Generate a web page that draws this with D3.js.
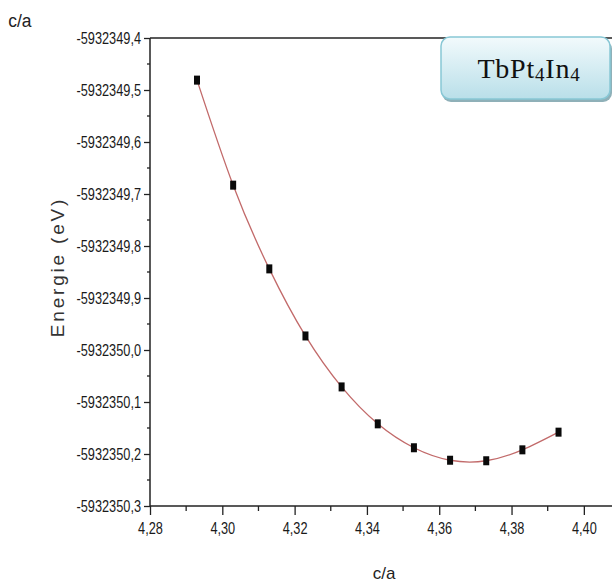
<!DOCTYPE html>
<html>
<head>
<meta charset="utf-8">
<script src="https://cdn.jsdelivr.net/npm/d3@7"></script>
<style>
  body { margin: 0; background: #fff; }
  .canva svg { display: block; }
</style>
</head>
<body>
<div class="canva"></div>
<script>
// c/a ratio and total energy (eV)
var caValues = [4.293, 4.303, 4.313, 4.323, 4.333, 4.343, 4.353, 4.363, 4.373, 4.383, 4.393];
var energyValues = [
    -5932349.481,
    -5932349.683,
    -5932349.844,
    -5932349.973,
    -5932350.071,
    -5932350.142,
    -5932350.188,
    -5932350.212,
    -5932350.213,
    -5932350.192,
    -5932350.158
];

var xTicks = [4.28, 4.30, 4.32, 4.34, 4.36, 4.38, 4.40];
var yTicks = [-5932349.4, -5932349.5, -5932349.6, -5932349.7, -5932349.8,
              -5932349.9, -5932350.0, -5932350.1, -5932350.2, -5932350.3];

const canvas = d3.select(".canva");
const svg = canvas.append("svg")
                  .attr("width", 612)
                  .attr("height", 588)
                  .attr("font-family", "'Liberation Sans', Arial, sans-serif");

const margin = {top: 38, left: 150, bottom: 506};
const squeeze = 0.75;

const locale = d3.formatLocale({decimal: ",", thousands: ".", grouping: [3], currency: ["", ""], minus: "-"});

var x = d3.scaleLinear()
          .domain([4.28, 4.41])
          .range([margin.left, 620]);

var y = d3.scaleLinear()
          .domain([-5932350.3, -5932349.4])
          .range([margin.bottom, margin.top]);

// legend box gradient
const defs = svg.append("defs");
const grad = defs.append("linearGradient")
                 .attr("id", "boxGrad")
                 .attr("x1", 0).attr("y1", 0).attr("x2", 0).attr("y2", 1);
grad.append("stop").attr("offset", "0%").attr("stop-color", "#f2fafc");
grad.append("stop").attr("offset", "100%").attr("stop-color", "#b9dfe9");

// top frame line
svg.append("line")
   .attr("x1", x(4.28)).attr("x2", 612)
   .attr("y1", y(-5932349.4)).attr("y2", y(-5932349.4))
   .attr("stroke", "#222").attr("stroke-width", 1.5);

// x axis (major + minor)
var xAxis = d3.axisBottom(x)
              .tickValues(xTicks)
              .tickSize(9)
              .tickPadding(7)
              .tickFormat(locale.format(".2f"));
const gx = svg.append("g")
   .attr("transform", `translate(0,${margin.bottom})`)
   .call(xAxis)
   .attr("font-family", null)
   .attr("font-size", 17);
gx.select(".domain").attr("d", `M${x(4.28)},0H620`).attr("stroke", "#222").attr("stroke-width", 1.5);
gx.selectAll(".tick line").attr("stroke", "#222").attr("stroke-width", 1.3);
gx.selectAll(".tick text")
  .attr("transform", `scale(${squeeze},1)`)
  .attr("fill", "#1a1a1a");

var xMinor = d3.range(0, 7).map(i => 4.29 + i * 0.02);
svg.append("g").selectAll("line")
   .data(xMinor)
   .enter().append("line")
   .attr("x1", d => x(d)).attr("x2", d => x(d))
   .attr("y1", margin.bottom).attr("y2", margin.bottom + 5)
   .attr("stroke", "#222").attr("stroke-width", 1.3);

// y axis (major + minor)
var yAxis = d3.axisLeft(y)
              .tickValues(yTicks)
              .tickSize(6)
              .tickPadding(3)
              .tickFormat(locale.format(".1f"));
const gy = svg.append("g")
   .attr("transform", `translate(${margin.left},0)`)
   .call(yAxis)
   .attr("font-family", null)
   .attr("font-size", 17);
gy.select(".domain").attr("d", `M0,${margin.top}V${margin.bottom}`).attr("stroke", "#222").attr("stroke-width", 1.5);
gy.selectAll(".tick line").attr("stroke", "#222").attr("stroke-width", 1.3);
gy.selectAll(".tick text")
  .attr("transform", `scale(${squeeze},1)`)
  .attr("x", -9 / squeeze)
  .attr("fill", "#1a1a1a");

var yMinor = d3.range(0, 9).map(i => -5932350.25 + i * 0.1);
svg.append("g").selectAll("line")
   .data(yMinor)
   .enter().append("line")
   .attr("x1", margin.left - 3).attr("x2", margin.left)
   .attr("y1", d => y(d)).attr("y2", d => y(d))
   .attr("stroke", "#222").attr("stroke-width", 1.3);

// fitted curve
var valueLine = d3.line()
                  .x((d, i) => x(caValues[i]))
                  .y(d => y(d))
                  .curve(d3.curveNatural);

svg.append("path")
   .datum(energyValues)
   .attr("fill", "none")
   .attr("stroke", "#c26a6a")
   .attr("stroke-width", 1.3)
   .attr("d", valueLine);

// square markers
svg.append("g").selectAll("rect")
   .data(energyValues)
   .enter().append("rect")
   .attr("x", (d, i) => x(caValues[i]) - 3)
   .attr("y", d => y(d) - 4.5)
   .attr("width", 6)
   .attr("height", 9)
   .attr("fill", "#0a0a0a");

// axis titles
svg.append("text")
   .attr("x", 9).attr("y", 27)
   .attr("font-size", 19)
   .attr("transform", "scale(0.92,1)")
   .attr("fill", "#222")
   .text("c/a");

svg.append("text")
   .attr("x", 384).attr("y", 579)
   .attr("text-anchor", "middle")
   .attr("font-size", 17)
   .attr("fill", "#222")
   .text("c/a");

svg.append("text")
   .attr("transform", "translate(64,267) rotate(-90)")
   .attr("text-anchor", "middle")
   .attr("font-size", 19)
   .attr("letter-spacing", 2.8)
   .attr("fill", "#333")
   .text("Energie (eV)");

// compound label box
const box = svg.append("g");
box.append("rect")
   .attr("x", 442).attr("y", 40)
   .attr("width", 170).attr("height", 62)
   .attr("rx", 9)
   .attr("fill", "#8fb0b8");
box.append("rect")
   .attr("x", 441).attr("y", 37)
   .attr("width", 169).attr("height", 62)
   .attr("rx", 9)
   .attr("fill", "url(#boxGrad)")
   .attr("stroke", "#88c7d5")
   .attr("stroke-width", 1.5);

const lbl = box.append("text")
   .attr("x", 529).attr("y", 78)
   .attr("text-anchor", "middle")
   .attr("font-family", "'Liberation Serif', 'Times New Roman', serif")
   .attr("font-size", 28)
   .attr("letter-spacing", 0.8)
   .attr("fill", "#111");
lbl.append("tspan").text("TbPt");
lbl.append("tspan").attr("font-size", 19).attr("dy", 3).text("4");
lbl.append("tspan").attr("dy", -3).text("In");
lbl.append("tspan").attr("font-size", 19).attr("dy", 3).text("4");
</script>
</body>
</html>
